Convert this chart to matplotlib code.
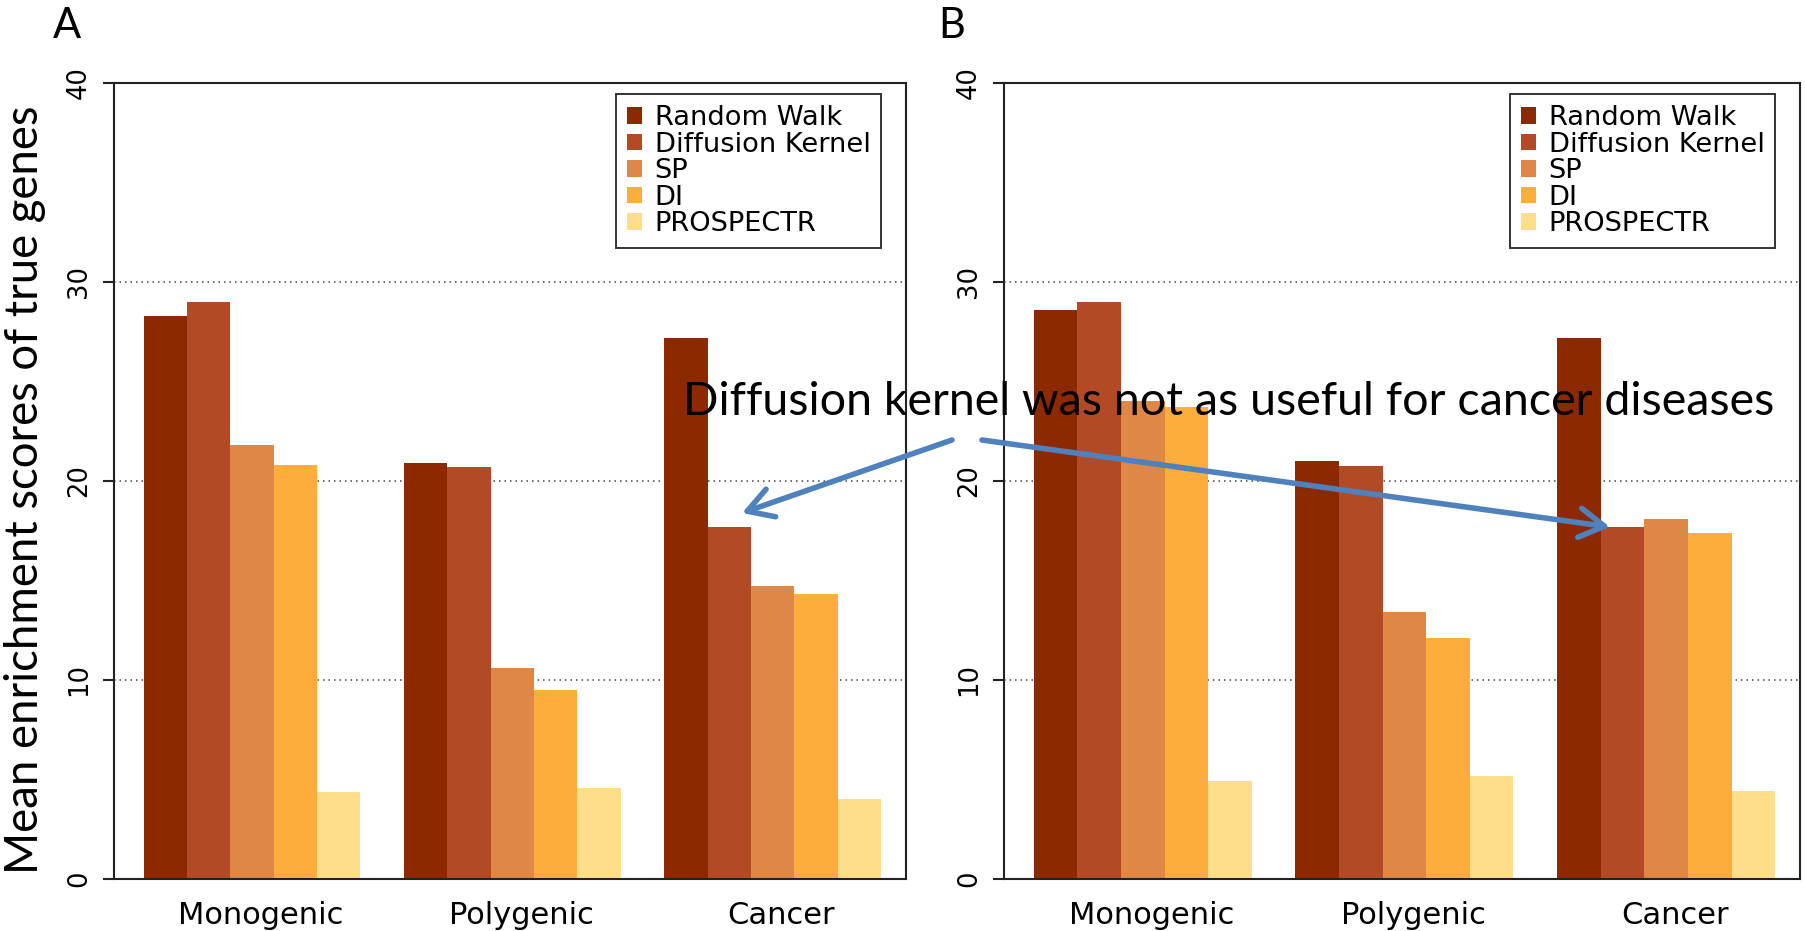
import matplotlib
matplotlib.use("Agg")
import matplotlib.pyplot as plt
from matplotlib.patches import FancyArrowPatch
import numpy as np

# ---------------- data ----------------
categories = ["Monogenic", "Polygenic", "Cancer"]
methods = ["Random Walk", "Diffusion Kernel", "SP", "DI", "PROSPECTR"]
yticks = [0, 10, 20, 30, 40]

a_random_walk = [28.3, 20.9, 27.2]
a_diffusion = [29.0, 20.7, 17.7]
a_sp = [21.8, 10.6, 14.7]
a_di = [20.8, 9.5, 14.3]
a_prospectr = [4.35, 4.55, 4.0]

b_random_walk = [28.6, 21.0, 27.2]
b_diffusion = [29.0, 20.75, 17.7]
b_sp = [24.0, 13.4, 18.1]
b_di = [23.7, 12.1, 17.4]
b_prospectr = [4.9, 5.2, 4.4]

annotation = "Diffusion kernel was not as useful for cancer diseases"
ylabel = "Mean enrichment scores of true genes"

colors = ["#8d2900", "#b34a26", "#df8746", "#fdad3b", "#fedd8b"]

# ---------------- layout ----------------
W, H = 1806, 931
fig = plt.figure(figsize=(W / 100, H / 100), dpi=100)


def fx(px):
    return px / W


def fy(py):
    return 1 - py / H


panels = [
    ("A", [a_random_walk, a_diffusion, a_sp, a_di, a_prospectr], 114, 906, 53),
    ("B", [b_random_walk, b_diffusion, b_sp, b_di, b_prospectr], 1004, 1800, 938),
]

top_px, bottom_px = 83, 879
group_starts = 1 + np.arange(len(categories)) * (len(methods) + 1)

for letter, series, left, right, letter_x in panels:
    ax = fig.add_axes([fx(left), fy(bottom_px), (right - left) / W,
                       (bottom_px - top_px) / H])
    for i, (vals, col, name) in enumerate(zip(series, colors, methods)):
        ax.bar(group_starts + i + 0.5, vals, width=1.0, color=col,
               label=name, linewidth=0, zorder=2)
    ax.set_xlim(0.32, 18.57)
    ax.set_ylim(0, 40)
    ax.set_yticks(yticks)
    ax.set_yticklabels([str(t) for t in yticks])
    ax.set_axisbelow(True)
    ax.grid(axis="y", color="#444444", linewidth=1.1,
            linestyle=(0, (1, 2.6)))
    ax.grid(axis="x", visible=False)
    for sp in ax.spines.values():
        sp.set_linewidth(1.5)
        sp.set_color("#222222")
    ax.set_xticks(group_starts + len(methods) / 2 + 0.2)
    ax.set_xticklabels(categories, fontsize=22, family="DejaVu Sans")
    ax.tick_params(axis="x", length=0, pad=16)
    ax.tick_params(axis="y", length=8, width=1.5, color="#222222", pad=8,
                   labelsize=18.5, labelrotation=90)
    for lab in ax.get_yticklabels():
        lab.set_va("center")
    leg = ax.legend(loc="upper right", bbox_to_anchor=(0.969, 0.986),
                    borderaxespad=0, fontsize=19.6, frameon=True,
                    fancybox=False, framealpha=1, edgecolor="#333333",
                    borderpad=0.4, labelspacing=0.02, handlelength=0.57,
                    handleheight=0.57, handletextpad=0.45)
    leg.get_frame().set_linewidth(1.4)

    fig.text(fx(letter_x), fy(38), letter, fontsize=30, family=["Lato", "DejaVu Sans"],
             ha="left", va="baseline")

renderer = fig.canvas.get_renderer()

# y label (large, Calibri-like)
yl = fig.text(fx(25.5), fy(490), ylabel, rotation=90, ha="center", va="center",
              fontsize=36, family=["Lato", "DejaVu Sans"])
bb = yl.get_window_extent(renderer)
yl.set_fontsize(36 * 769 / bb.height)

# annotation text
ann = fig.text(fx(683), fy(415), annotation, ha="left", va="baseline",
               fontsize=33, family=["Lato", "DejaVu Sans"], color="black", zorder=10)
bb = ann.get_window_extent(renderer)
ann.set_fontsize(33 * 1097 / bb.width)

# arrows
arrow_kw = dict(transform=fig.transFigure, arrowstyle="->,head_length=0.6,head_width=0.35",
                mutation_scale=30, linewidth=4.0, color="#4f81bd",
                shrinkA=0, shrinkB=0, capstyle="round", joinstyle="round", zorder=11)
fig.add_artist(FancyArrowPatch((fx(952), fy(440)), (fx(742), fy(513)), **arrow_kw))
fig.add_artist(FancyArrowPatch((fx(982), fy(440)), (fx(1610), fy(527)), **arrow_kw))

fig.savefig("out.png", dpi=100)
